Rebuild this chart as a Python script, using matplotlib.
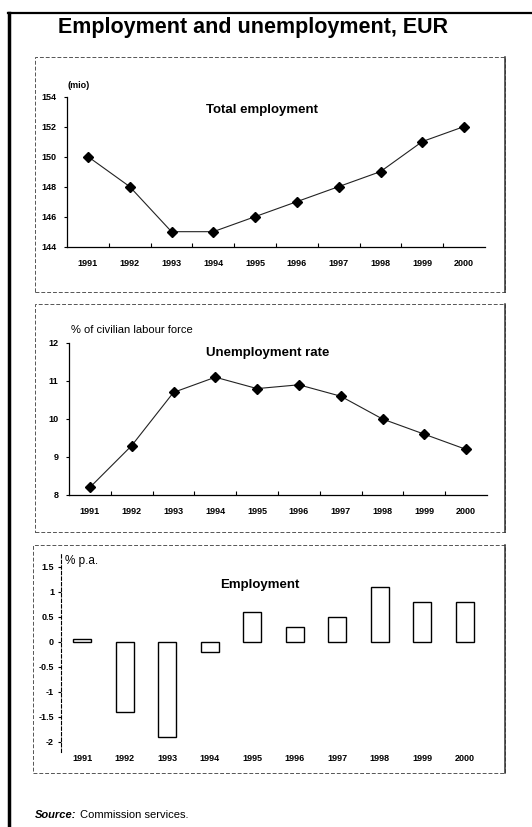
import matplotlib
matplotlib.use("Agg")
import matplotlib.pyplot as plt
from matplotlib.patches import Rectangle
from matplotlib.lines import Line2D
import numpy as np

plt.rcParams['font.family'] = ['Liberation Sans', 'DejaVu Sans']

years = [1991, 1992, 1993, 1994, 1995, 1996, 1997, 1998, 1999, 2000]
year_labels = [str(y) for y in years]

# Total employment, millions
total_employment = [150, 148, 145, 145, 146, 147, 148, 149, 151, 152]
# Unemployment rate, % of civilian labour force
unemployment_rate = [8.2, 9.3, 10.7, 11.1, 10.8, 10.9, 10.6, 10.0, 9.6, 9.2]
# Employment growth, % p.a.
employment_growth = [0.05, -1.4, -1.9, -0.2, 0.6, 0.3, 0.5, 1.1, 0.8, 0.8]

W, H = 532, 827
fig = plt.figure(figsize=(W / 100, H / 100), dpi=100)


def rect(x0, y0, x1, y1):
    # pixel box (top-left origin) -> figure fraction
    return [x0 / W, 1 - y1 / H, (x1 - x0) / W, (y1 - y0) / H]


def fig_line(xs, ys, **kw):
    fig.add_artist(Line2D([x / W for x in xs], [1 - y / H for y in ys],
                          transform=fig.transFigure, **kw))


def fig_text(x, y, s, **kw):
    fig.text(x / W, 1 - y / H, s, **kw)


# outer frame
fig_line([9, 9], [13, 827], color='black', lw=2.5)
fig_line([8, 532], [13, 13], color='black', lw=1.6)

# dashed panel boxes
for (x0, y0, x1, y1) in [(35, 57, 505, 292), (35, 304, 505, 532), (33, 545, 505, 773)]:
    fig.add_artist(Rectangle((x0 / W, 1 - y1 / H), (x1 - x0) / W, (y1 - y0) / H,
                             transform=fig.transFigure, fill=False,
                             edgecolor='#555555', lw=0.7, ls=(0, (4, 2))))
    fig_line([x1, x1], [y0, y1], color='#333333', lw=1.1)

fig_text(253, 27, 'Employment and unemployment, EUR', fontsize=15.5,
         fontweight='bold', ha='center', va='center')

tick_font = dict(fontsize=6.5, fontweight='bold')


def style_line_axes(ax):
    for s in ['top', 'right']:
        ax.spines[s].set_visible(False)
    for s in ['left', 'bottom']:
        ax.spines[s].set_linewidth(0.9)
    ax.set_xlim(1990.5, 2000.5)
    ax.set_xticks(years)
    ax.set_xticklabels(year_labels, **tick_font)
    ax.set_xticks(np.array(years[:-1]) + 0.5, minor=True)
    ax.tick_params(axis='x', which='major', length=0, pad=9)
    ax.tick_params(axis='x', which='minor', length=3, direction='in', width=0.8)
    ax.tick_params(axis='y', length=2.5, width=0.8, pad=5)
    for lab in ax.get_yticklabels():
        lab.set_fontweight('bold')
        lab.set_fontsize(6.5)


# Panel 1: total employment
ax1 = fig.add_axes(rect(67, 96.5, 485, 246.7))
ax1.plot(years, total_employment, color='#222222', lw=0.8,
         marker='D', markersize=4.6, markerfacecolor='black', markeredgecolor='black')
ax1.set_ylim(144, 154)
ax1.set_yticks(range(144, 155, 2))
style_line_axes(ax1)
fig_text(68, 86, '(mio)', fontsize=6.5, fontweight='bold', va='center')
fig_text(262, 110, 'Total employment', fontsize=9.5, fontweight='bold',
         ha='center', va='center')

# Panel 2: unemployment rate
ax2 = fig.add_axes(rect(69, 343, 487, 495))
ax2.plot(years, unemployment_rate, color='#222222', lw=0.8,
         marker='D', markersize=4.6, markerfacecolor='black', markeredgecolor='black')
ax2.set_ylim(8, 12)
ax2.set_yticks(range(8, 13))
style_line_axes(ax2)
fig_text(71, 330, '% of civilian labour force', fontsize=8, va='center')
fig_text(268, 353, 'Unemployment rate', fontsize=9.5, fontweight='bold',
         ha='center', va='center')

# Panel 3: employment growth
ax3 = fig.add_axes(rect(61, 554, 486, 751.7))
ax3.bar(years, employment_growth, width=0.42, facecolor='white',
        edgecolor='black', lw=1.0)
ax3.set_xlim(1990.5, 2000.5)
ax3.set_ylim(-2.2, 1.75)
ax3.set_yticks([1.5, 1, 0.5, 0, -0.5, -1, -1.5, -2])
ax3.set_yticklabels(['1.5', '1', '0.5', '0', '-0.5', '-1', '-1.5', '-2'], **tick_font)
ax3.set_xticks(years)
ax3.set_xticklabels(year_labels, **tick_font)
for s in ['top', 'right', 'bottom']:
    ax3.spines[s].set_visible(False)
ax3.spines['left'].set_linestyle((0, (3, 2)))
ax3.spines['left'].set_linewidth(0.8)
ax3.tick_params(axis='x', length=0, pad=2)
ax3.tick_params(axis='y', length=2, width=0.8, pad=3)
fig_text(65, 561, '% p.a.', fontsize=8.5, va='center')
fig_text(260, 585, 'Employment', fontsize=9.5, fontweight='bold',
         ha='center', va='center')

# source note
fig_text(35, 815, 'Source:', fontsize=8, fontweight='bold', style='italic', va='center')
fig_text(80, 815, 'Commission services.', fontsize=8, va='center')

fig.savefig('out.png', dpi=100)
